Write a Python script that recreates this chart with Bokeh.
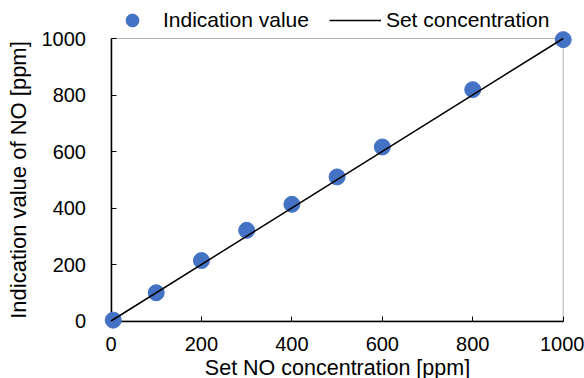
from bokeh.plotting import figure
from bokeh.models import Range1d, Legend, LegendItem, FixedTicker, BoxAnnotation
from bokeh.embed import file_html
from bokeh.resources import INLINE

set_conc = [5, 100, 200, 300, 400, 500, 600, 800, 1000]
indication = [3, 100, 214, 321, 413, 510, 616, 819, 996]
line_x = [0, 1000]
line_y = [0, 1000]
ticks = [0, 200, 400, 600, 800, 1000]
x_label = "Set NO concentration [ppm]"
y_label = "Indication value of NO [ppm]"

FONT = "Liberation Sans"
W, H = 584, 378
# pixel placement of the data box inside the canvas
BOX_L, BOX_R, BOX_T, BOX_B = 110.5, 562.7, 38.0, 320.5
LO, HI = 0, 1000
sx = (BOX_R - BOX_L) / (HI - LO)
sy = (BOX_B - BOX_T) / (HI - LO)
xr = Range1d(LO - BOX_L / sx, HI + (W - BOX_R) / sx)
yr = Range1d(LO - (H - BOX_B) / sy, HI + BOX_T / sy)

p = figure(width=W, height=H, output_backend="svg", toolbar_location=None,
           x_range=xr, y_range=yr, min_border=0,
           min_border_left=0, min_border_right=0, min_border_top=0, min_border_bottom=0)
p.background_fill_color = "white"
p.border_fill_color = "white"
p.xgrid.visible = False
p.ygrid.visible = False
p.outline_line_color = None

box = BoxAnnotation(left=LO, right=HI, bottom=LO, top=HI, fill_alpha=0,
                    line_color="black", line_width=1, level="underlay")
p.add_layout(box)

pts = p.scatter(set_conc, indication, size=16, fill_color="#4472C4", line_color="#4472C4", level="overlay")
ln = p.line(line_x, line_y, line_color="black", line_width=1.5, level="overlay")

for ax in (p.xaxis[0], p.yaxis[0]):
    ax.fixed_location = 0
    ax.bounds = (LO, HI)
    ax.ticker = FixedTicker(ticks=ticks)
    ax.major_tick_in = 5
    ax.major_tick_out = 0
    ax.minor_tick_line_color = None
    ax.axis_line_color = "black"
    ax.axis_line_width = 1.5
    ax.major_tick_line_color = "black"
    ax.major_tick_line_width = 1
    ax.major_label_text_font = FONT
    ax.major_label_text_font_size = "20px"
    ax.major_label_text_color = "black"
    ax.axis_label_text_font = FONT
    ax.axis_label_text_font_style = "normal"
    ax.axis_label_text_color = "black"

p.xaxis.axis_label = x_label
p.yaxis.axis_label = y_label
p.xaxis.axis_label_text_font_size = "21.5px"
p.yaxis.axis_label_text_font_size = "22px"
p.xaxis.major_label_standoff = 16
p.yaxis.major_label_standoff = 25
p.xaxis.axis_label_standoff = 1
p.yaxis.axis_label_standoff = 8

legend = Legend(items=[LegendItem(label="Indication value", renderers=[pts]),
                       LegendItem(label="Set concentration", renderers=[ln])],
                orientation="horizontal", location=(106, 342),
                label_text_font=FONT, label_text_font_size="21px", label_text_color="black",
                border_line_color=None, background_fill_alpha=0,
                glyph_width=52, glyph_height=32, label_height=32,
                spacing=20, padding=0, margin=0, label_standoff=5)
p.add_layout(legend, "center")

open("out.html", "w").write(file_html(p, INLINE))
